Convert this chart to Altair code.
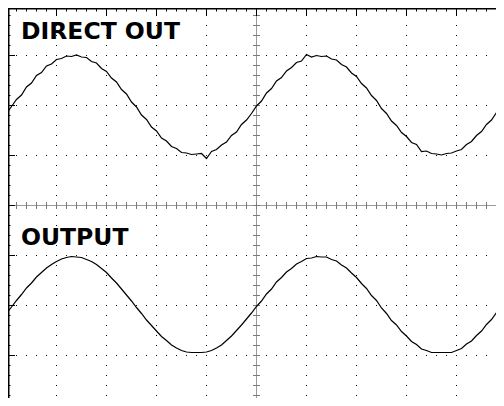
import altair as alt
import pandas as pd

# ---------------- data read from the oscilloscope screen ----------------
# time axis: horizontal divisions from screen centre, one sample per 0.1 div
time_div = [round(-5 + 0.1 * i, 1) for i in range(101)]

# vertical deflection in divisions, relative to each trace's own centre line
direct_out = [
    -0.16, -0.02, 0.12, 0.21, 0.37, 0.45, 0.60, 0.66, 0.79, 0.83,
    0.92, 0.94, 0.99, 0.98, 1.01, 0.97, 0.96, 0.88, 0.85, 0.74,
    0.68, 0.55, 0.47, 0.32, 0.23, 0.07, -0.03, -0.19, -0.28, -0.43,
    -0.51, -0.65, -0.71, -0.82, -0.86, -0.94, -0.95, -0.98, -0.97, -0.96,
    -1.06, -0.92, -0.88, -0.79, -0.73, -0.60, -0.53, -0.38, -0.29, -0.16,
    -0.01, 0.09, 0.25, 0.34, 0.49, 0.56, 0.69, 0.76, 0.86, 0.89,
    1.02, 0.97, 1.00, 0.98, 0.99, 0.93, 0.91, 0.82, 0.77, 0.65,
    0.58, 0.44, 0.35, 0.20, 0.10, -0.06, -0.16, -0.31, -0.40, -0.54,
    -0.62, -0.74, -0.78, -0.92, -0.91, -0.96, -0.97, -0.99, -0.96, -0.95,
    -0.91, -0.88, -0.78, -0.72, -0.60, -0.52, -0.38, -0.29, -0.14, -0.01,
    0.09,
]
output = [
    -0.16, -0.03, 0.10, 0.22, 0.35, 0.45, 0.57, 0.66, 0.75, 0.82,
    0.88, 0.93, 0.96, 0.98, 0.97, 0.96, 0.92, 0.88, 0.82, 0.74,
    0.66, 0.55, 0.45, 0.33, 0.21, 0.09, -0.04, -0.16, -0.29, -0.40,
    -0.51, -0.62, -0.70, -0.79, -0.85, -0.90, -0.93, -0.94, -0.94, -0.94,
    -0.93, -0.90, -0.85, -0.79, -0.70, -0.61, -0.50, -0.39, -0.27, -0.15,
    -0.02, 0.09, 0.23, 0.33, 0.47, 0.56, 0.67, 0.74, 0.83, 0.88,
    0.94, 0.95, 0.98, 0.97, 0.97, 0.92, 0.89, 0.81, 0.75, 0.65,
    0.56, 0.44, 0.34, 0.20, 0.10, -0.05, -0.16, -0.30, -0.39, -0.52,
    -0.61, -0.72, -0.78, -0.87, -0.90, -0.94, -0.94, -0.94, -0.94, -0.94,
    -0.90, -0.86, -0.77, -0.71, -0.60, -0.51, -0.38, -0.28, -0.14, -0.03,
    0.09,
]

trace_names = ["DIRECT OUT", "OUTPUT"]
trace_centres = [2, -2]          # centre line of each trace, in divisions

# graticule: 10 x 8 divisions, 5 minor ticks per division
x_major = [-4, -3, -2, -1, 1, 2, 3, 4]
y_major = [-3, -2, -1, 1, 2, 3]
minor_step = 0.2

# ---------------- tables ----------------
W, H = 488, 390
X = alt.Scale(domain=[-4.97, 4.79])
Y = alt.Scale(domain=[-3.85, 3.95])

trace_rows = []
for name, centre, vals in zip(trace_names, trace_centres, [direct_out, output]):
    for t, v in zip(time_div, vals):
        trace_rows.append({"t": t, "level": centre + v, "trace": name})
traces_df = pd.DataFrame(trace_rows)

grid_rows = []
for v in y_major:
    grid_rows.append({"x0": -5.01, "x1": 5.0, "y0": v, "y1": v})
for u in x_major:
    grid_rows.append({"x0": u, "x1": u, "y0": 4.01, "y1": -4.02})
grid_df = pd.DataFrame(grid_rows)

centre_df = pd.DataFrame([
    {"x0": 0, "x1": 0, "y0": 4.01, "y1": -4.02},
    {"x0": -5.01, "x1": 5.0, "y0": 0, "y1": 0},
])

tick_rows = []
for i in range(-25, 26):
    u = round(i * minor_step, 2)
    tick_rows.append({"x0": u, "x1": u, "y0": -0.07, "y1": 0.07})
for i in range(-20, 21):
    v = round(i * minor_step, 2)
    tick_rows.append({"x0": -0.07, "x1": 0.07, "y0": v, "y1": v})
ticks_df = pd.DataFrame(tick_rows)

edge_rows = []
for i in range(-25, 26):
    u = round(i * minor_step, 2)
    major = (i % 5 == 0)
    edge_rows.append({"x0": u, "x1": u, "y0": 3.99, "y1": 3.79 if major else 3.88})
for i in range(-20, 21):
    v = round(i * minor_step, 2)
    major = (i % 5 == 0)
    edge_rows.append({"x0": -5.0, "x1": -4.83 if major else -4.92, "y0": v, "y1": v})
edge_df = pd.DataFrame(edge_rows)


def segs(df, **kw):
    return alt.Chart(df).mark_rule(clip=True, **kw).encode(
        x=alt.X("x0:Q", scale=X, axis=None),
        x2="x1:Q",
        y=alt.Y("y0:Q", scale=Y, axis=None),
        y2="y1:Q",
    )


grid = segs(grid_df, color="black", strokeWidth=1, strokeDash=[1, 9])
centre = segs(centre_df, color="#9a9a9a", strokeWidth=1)
ticks = segs(ticks_df, color="#7a7a7a", strokeWidth=1)
edges = segs(edge_df, color="black", strokeWidth=1)

border_df = pd.DataFrame({"k": [0]})
left_border = alt.Chart(border_df).mark_rule(color="black", strokeWidth=1.5).encode(
    x=alt.value(0.75), y=alt.value(0), y2=alt.value(H)
)
top_border = alt.Chart(border_df).mark_rule(color="black", strokeWidth=1.5).encode(
    y=alt.value(0.75), x=alt.value(0), x2=alt.value(W)
)

lines = alt.Chart(traces_df).mark_line(color="black", strokeWidth=1.2, clip=True).encode(
    x=alt.X("t:Q", scale=X, axis=None),
    y=alt.Y("level:Q", scale=Y, axis=None),
    detail="trace:N",
)

text_style = dict(font="DejaVu Sans", fontWeight="bold", fontSize=23.5,
                  align="left", baseline="alphabetic", color="black")
label_top = alt.Chart(pd.DataFrame({"label": [trace_names[0]]})).mark_text(**text_style).encode(
    x=alt.value(13), y=alt.value(31.3), text="label:N"
)
label_bottom = alt.Chart(pd.DataFrame({"label": [trace_names[1]]})).mark_text(**text_style).encode(
    x=alt.value(13), y=alt.value(236.7), text="label:N"
)

chart = alt.layer(
    grid, centre, ticks, edges, left_border, top_border, lines, label_top, label_bottom
).properties(
    width=W, height=H, padding=0,
    autosize=alt.AutoSizeParams(type="none"),
    background="white",
).configure_view(stroke=None)

chart.save("out.html", embed_options={"renderer": "svg", "actions": False})
